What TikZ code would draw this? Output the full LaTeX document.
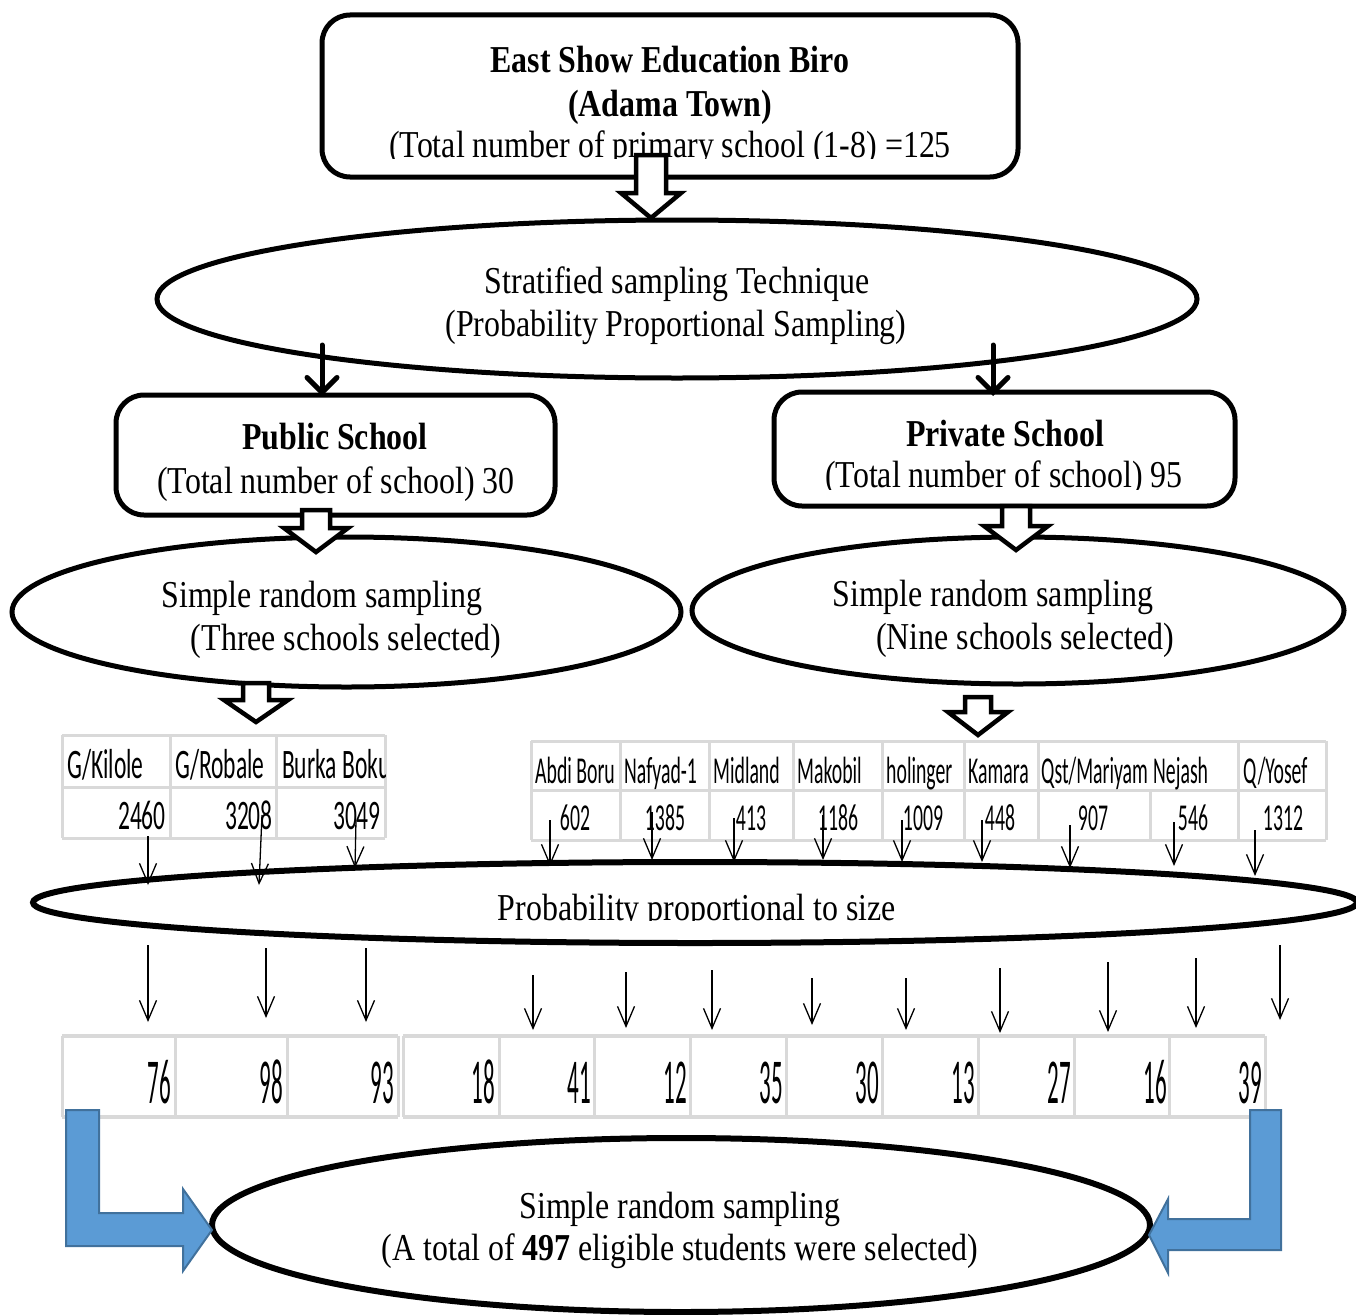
\documentclass[tikz,border=0pt]{standalone}
\usepackage{fontspec}
\setmainfont[FakeStretch=0.84]{Liberation Serif}
\newfontfamily\condA[FakeStretch=0.56]{Carlito}
\newfontfamily\condB[FakeStretch=0.52]{Carlito}
\newfontfamily\condC[FakeStretch=0.36]{Carlito}
\usetikzlibrary{shapes.geometric,arrows.meta}
\definecolor{gridgray}{HTML}{D9D9D9}
\definecolor{bluefill}{HTML}{5B9BD5}
\definecolor{blueedge}{HTML}{41719C}
\tikzset{
  roundbox/.style={draw, line width=5pt, rounded corners=28pt, inner sep=0pt, outer sep=0pt},
  oval/.style={draw, ellipse, line width=5pt, inner sep=0pt, outer sep=0pt},
  lbl/.style={anchor=base, inner sep=0pt, yshift=-2pt, font=\fontsize{38}{44}\selectfont},
  hdA/.style={anchor=base west, inner sep=0pt, font=\condA\fontsize{42}{44}\selectfont},
  valA/.style={anchor=base east, inner sep=0pt, font=\condA\fontsize{42}{44}\selectfont},
  hdB/.style={anchor=base west, inner sep=0pt, font=\condB\fontsize{38}{44}\selectfont},
  valB/.style={anchor=base, inner sep=0pt, font=\condB\fontsize{38}{44}\selectfont},
  numC/.style={anchor=base east, inner sep=0pt, font=\condC\fontsize{64}{66}\selectfont},
  gridline/.style={draw=gridgray, line width=3pt},
  thinarrow/.style={line width=1.3pt, -{Straight Barb[length=20pt,width=17pt]}},
  thickarrow/.style={line width=5pt, line cap=round, -{Straight Barb[length=15pt,width=30pt,line cap=round]}},
  hollow/.style={draw, line width=4.5pt, fill=white, line join=miter},
  bluearrow/.style={fill=bluefill, draw=blueedge, line width=2pt, line join=miter}
}
\newcommand\harrow[6]{% x, ytop, yhead, ytip, shaft half, head half
  \path[hollow] ({#1-#5},#2) -- ({#1+#5},#2) -- ({#1+#5},#3) -- ({#1+#6},#3) -- (#1,#4) -- ({#1-#6},#3) -- ({#1-#5},#3) -- cycle;}
\begin{document}
\begin{tikzpicture}[x=1pt,y=-1pt]
\useasboundingbox (0,0) rectangle (1356,1314);

% ---------- top box ----------
\node[roundbox, minimum width=696pt, minimum height=162pt] (top) at (670,96) {};
\node[lbl] (t1) at (670,71) {\bfseries East Show Education Biro};
\node[lbl] (t2) at (670,114) {\bfseries (Adama Town)};
\begin{scope}
  \clip (330,120) rectangle (1010,158);
  \node[lbl] (t3) at (670,155) {(Total number of primary school (1-8) =125};
\end{scope}

% ---------- stratified ellipse ----------
\node[oval, minimum width=1040pt, minimum height=158pt] (strat) at (677,299) {};
\node[lbl] (s1) at (677,291) {Stratified sampling Technique};
\node[lbl] (s2) at (676,334) {(Probability Proportional Sampling)};

\harrow{651}{155}{193}{218}{15}{30}

% ---------- public / private boxes ----------
\node[roundbox, minimum width=439pt, minimum height=120pt] (pub) at (335.5,455) {};
\node[lbl] (p1) at (335,447) {\bfseries Public School};
\node[lbl] (p2) at (336,491) {(Total number of school) 30};

\node[roundbox, minimum width=461pt, minimum height=114pt] (pri) at (1004.5,449) {};
\node[lbl] (q1) at (1005,444) {\bfseries Private School};
\begin{scope}
  \clip (790,455) rectangle (1220,489);
  \node[lbl] (q2) at (1004,485) {(Total number of school) 95};
\end{scope}

\coordinate (sa1) at (322,345); \coordinate (sb1) at (322,396);
\coordinate (sa2) at (993,345); \coordinate (sb2) at (993,396);
\draw[thickarrow] (sa1) -- (sb1);
\draw[thickarrow] (sa2) -- (sb2);

% ---------- simple random ellipses ----------
\node[oval, minimum width=669pt, minimum height=150pt] (srl) at (346.5,612) {};
\node[lbl] (l1) at (322,605) {Simple random sampling};
\node[lbl] (l2) at (346,648) {(Three schools selected)};

\node[oval, minimum width=652pt, minimum height=147pt] (srr) at (1018,610.5) {};
\node[lbl] (r1) at (993,604) {Simple random sampling};
\node[lbl] (r2) at (1025,647) {(Nine schools selected)};

\harrow{316}{510}{528}{552}{14}{32}
\harrow{1016}{506}{526}{550}{14}{32}

% ---------- upper left table ----------
\foreach \y in {735,787,838} \draw[gridline] (62,\y) -- (385,\y);
\foreach \x in {62,170,276,385} \draw[gridline] (\x,735) -- (\x,838);
\node[hdA] (h1) at (67,778) {G/Kilole};
\node[hdA] (h2) at (175,778) {G/Robale};
\begin{scope}
  \clip (276,736) rectangle (385,786);
  \node[hdA] (h3) at (282,778) {Burka Boku};
\end{scope}
\node[valA] (v1) at (166,829) {2460};
\node[valA] (v2) at (273,829) {3208};
\node[valA] (v3) at (381,829) {3049};

% ---------- upper right table ----------
\foreach \y in {741,790,840} \draw[gridline] (531,\y) -- (1326,\y);
\foreach \x in {531,620,709,793,882,964,1038,1238,1326} \draw[gridline] (\x,741) -- (\x,840);
\draw[gridline] (1150,790) -- (1150,840);
\foreach \n/\x/\t in {a/535/Abdi Boru,b/624/Nafyad-1,c/713/Midland,d/797/Makobil,e/886/holinger,f/968/Kamara,g/1041/Qst\slash Mariyam,h/1153/Nejash,i/1243/Q\slash Yosef}
  \node[hdB] (rh\n) at (\x,783) {\t};
\foreach \n/\x/\t in {a/575/602,b/665/1385,c/751/413,d/838/1186,e/923/1009,f/1000/448,g/1093/907,h/1193/546,i/1283/1312}
  \node[valB] (rv\n) at (\x,830) {\t};

\harrow{256}{683}{700}{722}{13}{32}
\harrow{978}{697}{712}{735}{13}{30}

% ---------- PPS ellipse ----------
\node[oval, line width=6pt, minimum width=1324pt, minimum height=81pt] (pps) at (695,902.5) {};
\begin{scope}
  \clip (300,880) rectangle (1100,920);
  \node[lbl] (pp) at (697,918) {Probability proportional to size};
\end{scope}

% thin arrows table -> pps
\foreach \i/\xa/\ya/\xb/\yb in {1/148/836/148/885, 2/262/815/259/885, 3/356/820/355/868, 4/550/820/550/866, 5/652/812/652/860, 6/734/818/734/862, 7/823/815/823/860, 8/902/820/902/862, 9/982/820/982/862, 10/1070/825/1070/868, 11/1174/822/1174/866, 12/1255/830/1255/876}{
  \coordinate (ua\i) at (\xa,\ya); \coordinate (ub\i) at (\xb,\yb);
  \draw[thinarrow] (ua\i) -- (ub\i);
}
% thin arrows pps -> bottom table
\foreach \i/\x/\ya/\yb in {1/148/945/1022, 2/266/948/1018, 3/366/948/1022, 4/533/975/1030, 5/626/972/1028, 6/712/970/1030, 7/812/978/1025, 8/906/978/1030, 9/1000/968/1033, 10/1108/962/1032, 11/1196/958/1028, 12/1280/945/1020}{
  \coordinate (da\i) at (\x,\ya); \coordinate (db\i) at (\x,\yb);
  \draw[thinarrow] (da\i) -- (db\i);
}

% ---------- bottom table ----------
\draw[gridline, line width=4.5pt] (62,1036) -- (398,1036) (403,1036) -- (1265,1036);
\draw[gridline, line width=4pt] (62,1117) -- (398,1117) (403,1117) -- (1265,1117);
\foreach \x in {62,175,287,398,403,499,594,690,786,882,978,1074,1169,1265} \draw[gridline] (\x,1036) -- (\x,1117);
\foreach \n/\x/\t in {a/171/76,b/283/98,c/394/93,d/495/18,e/591/41,f/687/12,g/783/35,h/879/30,i/975/13,j/1071/27,k/1167/16,l/1262/39}
  \node[numC] (bn\n) at (\x,1103) {\t};

% ---------- bottom ellipse ----------
\node[oval, line width=6pt, minimum width=938pt, minimum height=174pt] (final) at (681,1225) {};
\node[lbl] (f1) at (680,1216) {Simple random sampling};
\node[lbl] (f2) at (680,1258) {(A total of \textbf{497} eligible students were selected)};

% ---------- blue L arrows ----------
\path[bluearrow] (66,1110) -- (99,1110) -- (99,1213) -- (183,1213) -- (183,1189) -- (212,1230) -- (183,1271) -- (183,1246) -- (66,1246) -- cycle;
\path[bluearrow] (1281,1110) -- (1250,1110) -- (1250,1219) -- (1168,1219) -- (1168,1199) -- (1149,1235) -- (1168,1273) -- (1168,1250) -- (1281,1250) -- cycle;
\end{tikzpicture}
\end{document}
